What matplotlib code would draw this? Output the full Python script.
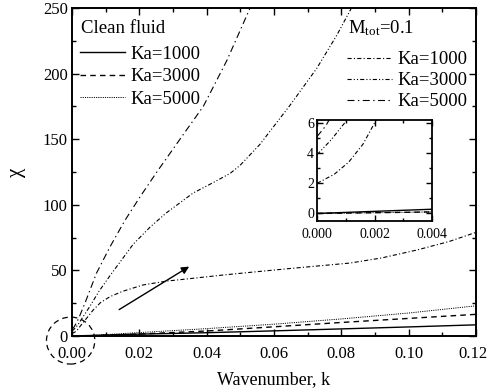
import numpy as np
import matplotlib
matplotlib.use("Agg")
from matplotlib import pyplot as plt
from matplotlib.patches import Ellipse
from matplotlib.lines import Line2D
from matplotlib.transforms import ScaledTranslation

plt.rcParams['font.family'] = ['Liberation Serif', 'DejaVu Serif']
plt.rcParams['mathtext.fontset'] = 'custom'
plt.rcParams['mathtext.rm'] = 'Liberation Serif'
plt.rcParams['mathtext.it'] = 'Liberation Serif:italic'
plt.rcParams['lines.scale_dashes'] = False

# clean fluid curves
k_clean = [0.0, 0.004, 0.02, 0.04, 0.06, 0.08, 0.10, 0.12]
clean_1000 = [0.0, 0.28, 1.4, 2.5, 3.9, 5.4, 6.9, 8.5]
clean_3000 = [0.0, 0.10, 1.5, 3.8, 7.0, 10.3, 13.4, 16.5]
clean_5000 = [0.0, 0.10, 2.6, 5.6, 9.0, 13.0, 17.5, 23.0]

# M_tot = 0.1 curves
k_m1000 = [0.0, 0.0006, 0.0011, 0.0016, 0.002, 0.003, 0.0045, 0.0063, 0.0085,
           0.0113, 0.015, 0.0211, 0.028, 0.036, 0.045, 0.0529, 0.065, 0.0826,
           0.092, 0.1024, 0.112, 0.12]
m_1000 = [2.0, 2.6, 3.4, 4.6, 6.0, 9.3, 14.0, 19.8, 25.5,
          30.0, 34.0, 38.9, 41.8, 44.0, 46.5, 48.5, 51.5, 55.6,
          59.5, 65.5, 72.0, 79.0]

k_m3000 = [0.0, 0.0005, 0.001, 0.002, 0.0035, 0.0053, 0.008, 0.0113, 0.0182,
           0.0232, 0.0281, 0.036, 0.042, 0.047, 0.0499, 0.0558, 0.0648,
           0.0727, 0.0786, 0.083]
m_3000 = [3.9, 4.9, 6.1, 9.5, 15.5, 22.5, 34.0, 46.0, 70.0,
          83.0, 94.0, 109.0, 117.0, 124.0, 130.0, 146.0, 176.0,
          204.0, 229.0, 250.0]

k_m5000 = [0.0, 0.0003, 0.0006, 0.001, 0.002, 0.004, 0.0073, 0.0113, 0.0157,
           0.0202, 0.0252, 0.0296, 0.034, 0.039, 0.046, 0.0529]
m_5000 = [5.1, 5.8, 6.8, 8.5, 13.5, 26.0, 48.0, 68.0, 88.0,
          106.0, 125.0, 141.0, 157.0, 175.0, 210.0, 250.0]

sty_c1 = dict(color='k', lw=1.0, linestyle='-')
sty_c3 = dict(color='k', lw=1.0, linestyle=(0, (4, 3)))
sty_c5 = dict(color='k', lw=0.7, linestyle=(0, (0.8, 0.8)))
sty_m1 = dict(color='k', lw=0.8, linestyle=(0, (3, 1.6, 0.8, 1.6)))
sty_m3 = dict(color='k', lw=0.8, linestyle=(0, (3, 1.5, 0.8, 1.5, 0.8, 1.5)))
sty_m5 = dict(color='k', lw=0.8, linestyle=(0, (5, 2.5, 1, 2.5)))

fig = plt.figure(figsize=(4.89, 3.91), dpi=100)
ax = fig.add_axes([0.1472, 0.1407, 0.8262, 0.8388])

ax.plot(k_clean, clean_1000, **sty_c1)
ax.plot(k_clean, clean_3000, **sty_c3)
ax.plot(k_clean, clean_5000, **sty_c5)
ax.plot(k_m1000, m_1000, **sty_m1)
ax.plot(k_m3000, m_3000, **sty_m3)
ax.plot(k_m5000, m_5000, **sty_m5)

ax.set_xlim(0, 0.12)
ax.set_ylim(0, 250)
ax.set_xticks(np.arange(0, 0.121, 0.02))
ax.set_xticks(np.arange(0, 0.121, 0.01), minor=True)
ax.set_yticks(np.arange(0, 251, 50))
ax.set_yticks(np.arange(0, 251, 25), minor=True)
ax.xaxis.set_major_formatter(matplotlib.ticker.FormatStrFormatter('%.2f'))
ax.tick_params(which='both', direction='in', top=True, right=True, labelsize=12, width=1.0)
ax.tick_params(which='major', length=5)
ax.tick_params(which='minor', length=3)
ax.tick_params(axis='x', pad=7)
ax.tick_params(axis='y', pad=3)
for s in ax.spines.values():
    s.set_linewidth(1.4)

ax.set_xlabel('Wavenumber, k', fontsize=13, labelpad=7)
ax.set_ylabel('χ', fontsize=15, labelpad=12)

# keep the last x tick label inside the figure
fig.canvas.draw()
last = ax.get_xticklabels()[-1]
last.set_transform(last.get_transform() + ScaledTranslation(-3 / 100, 0, fig.dpi_scale_trans))

# dashed circle around the origin and the arrow pointing out of it
circ = Ellipse((-0.0004, -3.5), 0.01435, 35.8, fill=False, ec='k', lw=0.9,
               linestyle=(0, (4, 3)), clip_on=False, zorder=5)
ax.add_patch(circ)
ax.annotate('', xy=(0.0355, 54), xytext=(0.0133, 19),
            arrowprops=dict(arrowstyle='-|>', color='k', lw=1.0, mutation_scale=11))

h_clean = [Line2D([], [], **sty_c1), Line2D([], [], **sty_c3), Line2D([], [], **sty_c5)]
h_m = [Line2D([], [], **sty_m1), Line2D([], [], **sty_m3), Line2D([], [], **sty_m5)]
labels = ['Ka=1000', 'Ka=3000', 'Ka=5000']

ax.text(0.0223, 0.923, 'Clean fluid', transform=ax.transAxes, fontsize=13.5, va='baseline')
leg1 = ax.legend(h_clean, labels, loc='upper left',
                 bbox_to_anchor=(0.0198, 0.886), frameon=False, fontsize=13.5,
                 handlelength=2.4, handletextpad=0.3,
                 labelspacing=0.30, borderaxespad=0, borderpad=0)
ax.add_artist(leg1)
ax.text(0.683, 0.923, 'M$_{\\mathrm{tot}}$=0.1', transform=ax.transAxes, fontsize=13.5, va='baseline')
leg2 = ax.legend(h_m, labels, loc='upper left',
                 bbox_to_anchor=(0.6807, 0.868), frameon=False, fontsize=13.5,
                 handlelength=2.4, handletextpad=0.3,
                 labelspacing=0.20, borderaxespad=0, borderpad=0)

# inset near k = 0
ins = fig.add_axes([0.6483, 0.4348, 0.2352, 0.2583])
ins.plot(k_clean, clean_1000, **sty_c1)
ins.plot(k_clean, clean_3000, **sty_c3)
ins.plot(k_clean, clean_5000, **sty_c5)
ins.plot(k_m1000, m_1000, **sty_m1)
ins.plot(k_m3000, m_3000, **sty_m3)
ins.plot(k_m5000, m_5000, **sty_m5)
ins.set_xlim(0, 0.004)
ins.set_ylim(-0.5, 6.2)
ins.set_xticks([0, 0.002, 0.004])
ins.set_xticks([0.001, 0.003], minor=True)
ins.set_yticks([0, 2, 4, 6])
ins.set_yticks([1, 3, 5], minor=True)
ins.xaxis.set_major_formatter(matplotlib.ticker.FormatStrFormatter('%.3f'))
ins.tick_params(which='both', direction='in', top=True, right=True, labelsize=10, width=1.0)
ins.tick_params(which='major', length=4)
ins.tick_params(which='minor', length=2.5)
ins.tick_params(axis='x', pad=5)
ins.tick_params(axis='y', pad=2)
for s in ins.spines.values():
    s.set_linewidth(1.3)

plt.savefig('out.png', dpi=100)
